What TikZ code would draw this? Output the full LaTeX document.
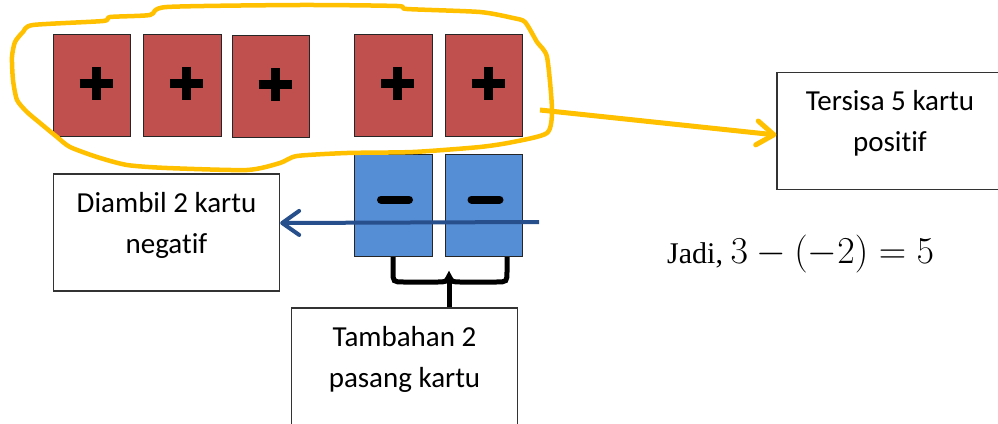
\RequirePackage{fix-cm}
\documentclass[tikz,border=0pt]{standalone}
\usepackage{fontspec}
\setmainfont{Liberation Serif}
\newfontfamily\calibri[Ligatures=NoCommon]{Carlito}
\usepackage{tikz}
\usetikzlibrary{positioning,arrows.meta}
\definecolor{kartumerah}{HTML}{C0504D}
\definecolor{kartubiru}{HTML}{558ED5}
\definecolor{panahbiru}{HTML}{264F8C}
\definecolor{kuning}{HTML}{FFC000}
\tikzstyle{line} = [draw,line width=5pt]

\begin{document}
\begin{tikzpicture}[x=1pt,y=-1pt,node distance=12pt]
  \tikzstyle{kartu} = [draw=black!85, line width=1pt, minimum width=77.5pt, minimum height=102pt, inner sep=0pt]
  \tikzstyle{kartuplus} = [kartu, fill=kartumerah]
  \tikzstyle{kartuminus} = [kartu, fill=kartubiru]
  \tikzstyle{tanda} = [line width=9pt]
  \tikzstyle{keterangan} = [draw=black!80, line width=1.3pt, minimum width=226pt, minimum height=117pt, align=center, font=\calibri\fontsize{29}{41}\selectfont, text depth=20pt]
  \clip (0,0) rectangle (998,423);
  % kartu positif
  \node[kartuplus] (p1) at (92,85) {};
  \node[kartuplus, right=12pt of p1] (p2) {};
  \node[kartuplus, right=10pt of p2, yshift=-1.5pt] (p3) {};
  \node[kartuplus, right=44pt of p3, yshift=1.5pt] (p4) {};
  \node[kartuplus, right=12pt of p4] (p5) {};
  % kartu negatif
  \node[kartuminus, below=17pt of p4] (m1) {};
  \node[kartuminus, below=17pt of p5] (m2) {};
  \foreach \k in {p1,p2,p3,p4,p5} {
    \draw[tanda] ([xshift=-12.5pt,yshift=2pt]\k.center) -- ([xshift=20.5pt,yshift=2pt]\k.center);
    \draw[tanda] ([xshift=4pt,yshift=18.5pt]\k.center) -- ([xshift=4pt,yshift=-14.5pt]\k.center);
  }
  \foreach \k in {m1,m2}
    \draw[tanda, line width=8pt, line cap=round] ([xshift=-12.5pt,yshift=5.5pt]\k.center) -- ([xshift=15.5pt,yshift=5.5pt]\k.center);
  % lingkaran kuning
  \draw[kuning, line width=4.5pt, line join=round] plot[smooth cycle, tension=0.4] coordinates {
    (103,21) (110,17) (150,15) (167,7) (300,5) (397,6) (407,9) (480,12) (513,18) (525,22)
    (537,42) (547,57) (552,110) (547,133) (513,142) (480,147) (413,152) (347,153) (297,156)
    (280,163) (247,170) (167,168) (127,165) (97,157) (70,147) (57,137) (40,123) (27,112)
    (17,100) (13,80) (12,57) (15,42) (23,32) (33,25)};
  % keterangan
  \node[keterangan] (ambil) at (166.5,232.5) {Diambil 2 kartu\\negatif};
  \node[keterangan] (tambah) at (404.5,366.5) {Tambahan 2\\pasang kartu};
  \node[keterangan] (sisa) at (890,131) {Tersisa 5 kartu\\positif};
  \node[anchor=base west, inner sep=0pt] (hasil) at (667,263) {\fontsize{30}{36}\selectfont Jadi, \fontsize{38}{44}\selectfont$3-(-2)=5$};
  % panah
  \coordinate (keluar) at (540,110);
  \draw[kuning, line width=5pt, -{Straight Barb[length=17pt,width=24pt,round]}] (keluar) -- ([yshift=-4pt]sisa.west);
  \coordinate (ambilan) at (539,222);
  \draw[panahbiru, line width=4pt, -{Straight Barb[length=17pt,width=24pt,round]}] (ambilan) -- ([yshift=9.5pt]ambil.east);
  % kurung kurawal
  \path[line] (393,257) -- (393,271) .. controls (393,282) .. (404,282) -- (437,282)
    .. controls (446,282) .. (449,276) .. controls (452,282) .. (461,282) -- (496,282)
    .. controls (507,282) .. (507,271) -- (507,257);
  \coordinate (kurung) at (449,278);
  \path[line] (kurung) -- (kurung |- tambah.north);
\end{tikzpicture}
\end{document}
